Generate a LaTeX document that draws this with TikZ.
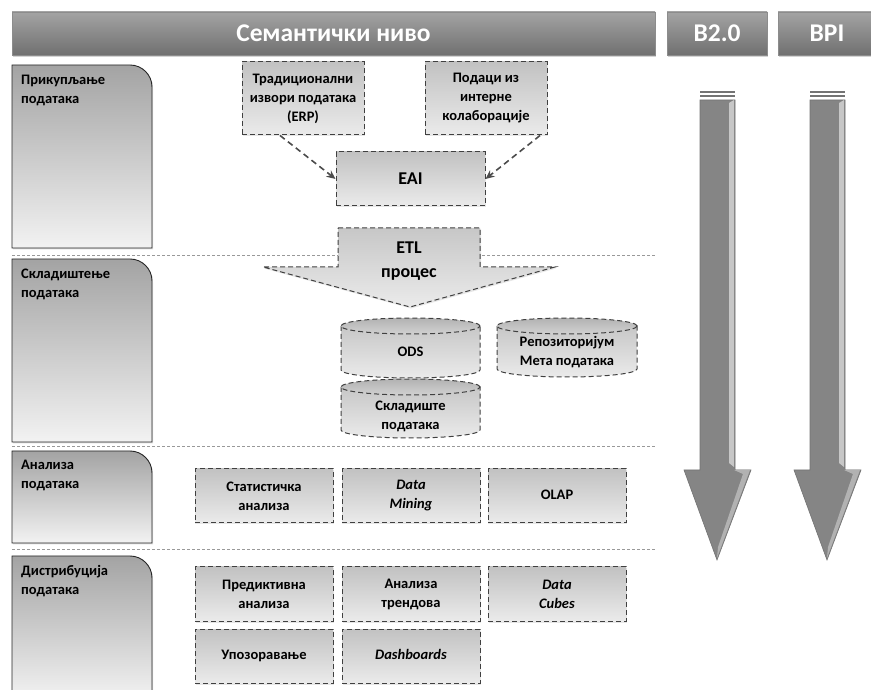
\documentclass[tikz,border=0pt]{standalone}
\usepackage{fontspec}
\setmainfont{Carlito}
\usetikzlibrary{arrows.meta,shadows}
\newcommand\boxfont{\fontsize{14.5}{19}\selectfont\bfseries}
\tikzset{
  tab/.style={text=white, font=\fontsize{25.5}{25.5}\selectfont\bfseries,
    top color=black!36, bottom color=black!56, draw=black!45,
    minimum height=43pt, inner sep=0pt,
    drop shadow={opacity=0.35, shadow xshift=1pt, shadow yshift=-2pt}},
  phase/.style={draw=black!85, line width=0.9pt, top color=black!36, bottom color=black!5,
    drop shadow={opacity=0.25, shadow xshift=1pt, shadow yshift=-1.5pt}},
  phasetext/.style={anchor=north west, align=left, inner sep=0pt, font=\boxfont},
  item/.style={draw=black!75, dash pattern=on 5pt off 3pt, line width=1pt,
    top color=black!24, bottom color=black!8, align=center, font=\boxfont,
    minimum width=138pt, minimum height=54pt, inner sep=0pt,
    drop shadow={opacity=0.2, shadow xshift=1pt, shadow yshift=-1.5pt}},
  oneline/.style={text height=10pt, text depth=3pt},
  drum/.style={draw=black!75, dash pattern=on 5pt off 3pt, line width=1pt,
    top color=black!22, bottom color=black!8},
  drumtext/.style={align=center, font=\boxfont, inner sep=0pt},
  flow/.style={draw=black!70, line width=1.6pt, dash pattern=on 6pt off 4pt,
    -{Stealth[length=9pt,width=8pt]}},
  sep/.style={draw=black!40, line width=0.8pt, dash pattern=on 3pt off 2pt},
  bigarrow/.style={fill=black!48, draw=black!55, line width=0.6pt},
}
\begin{document}
\begin{tikzpicture}[x=1pt,y=1pt]
\useasboundingbox (0,0) rectangle (871,689);
% header
\node[tab, minimum width=643pt] (sem) at (333.5,655.5) {Семантички ниво};
\node[tab, minimum width=100pt] (b20) at (717,655.5) {B2.0};
\node[tab, minimum width=98pt] (bpi) at (827,655.5) {BPI};

% separators
\draw[sep] (12,434) -- (655,434);
\draw[sep] (12,243) -- (655,243);
\draw[sep] (12,140) -- (655,140);

% phases on the left
\draw[phase] (12,441) -- (12,624) -- (130,624) arc[start angle=90, end angle=0, radius=22] -- (152,441) -- cycle;
\draw[phase] (12,247) -- (12,430) -- (130,430) arc[start angle=90, end angle=0, radius=22] -- (152,247) -- cycle;
\draw[phase] (12,146) -- (12,238) -- (130,238) arc[start angle=90, end angle=0, radius=22] -- (152,146) -- cycle;
\draw[phase] (12,-10) -- (12,133) -- (130,133) arc[start angle=90, end angle=0, radius=22] -- (152,-10) -- cycle;
\node[phasetext] (p1) at (21,614) {Прикупљање\\података};
\node[phasetext] (p2) at (21,420) {Складиштење\\података};
\node[phasetext] (p3) at (21,229) {Анализа\\података};
\node[phasetext] (p4) at (21,124) {Дистрибуција\\података};

% collection
\node[item, minimum width=122pt, minimum height=73pt] (trad) at (303,590.5) {Традиционални\\извори података\\(ERP)};
\node[item, minimum width=122pt, minimum height=73pt] (intern) at (486,590.5) {Подаци из\\интерне\\колаборације};
\node[item, minimum width=149pt, font=\fontsize{18}{22}\selectfont\bfseries] (eai) at (410.5,510) {EAI};
\draw[flow] ([xshift=-23pt]trad.south) -- (eai.west);
\draw[flow] ([xshift=54pt]intern.south) -- (eai.east);

% ETL
\draw[drum, drop shadow={opacity=0.2, shadow xshift=1pt, shadow yshift=-1.5pt}]
  (338,461) -- (480,461) -- (480,422) -- (555,422) -- (410,382) -- (263,422) -- (338,422) -- cycle;
\node[drumtext, font=\fontsize{18}{24}\selectfont\bfseries] (etl) at (409,428) {ETL\\процес};

% storage
\draw[drum] (341,363) -- (341,319) arc[start angle=180, end angle=360, x radius=69.5, y radius=8] -- (480,363) -- cycle;
\draw[drum, top color=black!30, bottom color=black!18] (410.5,363) ellipse[x radius=69.5, y radius=8];
\draw[drum] (341,302) -- (341,259) arc[start angle=180, end angle=360, x radius=69.5, y radius=8] -- (480,302) -- cycle;
\draw[drum, top color=black!30, bottom color=black!18] (410.5,302) ellipse[x radius=69.5, y radius=8];
\draw[drum] (497,363) -- (497,320) arc[start angle=180, end angle=360, x radius=70, y radius=8] -- (637,363) -- cycle;
\draw[drum, top color=black!30, bottom color=black!18] (567,363) ellipse[x radius=70, y radius=8];
\node[drumtext, oneline] (ods) at (410.5,336) {ODS};
\node[drumtext] (dw) at (410.5,273) {Складиште\\података};
\node[drumtext] (meta) at (567,337) {Репозиторијум\\Мета података};

% analysis
\node[item] (stat) at (264,193) {Статистичка\\анализа};
\node[item] (mining) at (411,193) {\textit{Data}\\\textit{Mining}};
\node[item, oneline] (olap) at (557,193) {OLAP};

% distribution
\node[item] (pred) at (264,95) {Предиктивна\\анализа};
\node[item] (trend) at (411,95) {Анализа\\трендова};
\node[item] (cubes) at (557,95) {\textit{Data}\\\textit{Cubes}};
\node[item, oneline] (warn) at (264,33) {Упозоравање};
\node[item, oneline] (dash) at (411,33) {\textit{Dashboards}};

% B2.0 and BPI arrows
\fill[black!55] (700,598) rectangle (735,596);
\fill[black!55] (700,594) rectangle (735,592);
\draw[bigarrow] (700,589) -- (735,589) -- (735,219) -- (751,219) -- (717,129) -- (684,219) -- (700,219) -- cycle;
\fill[black!22] (729,586) -- (734,589) -- (734,222) -- (729,226) -- cycle;
\fill[black!30] (734,219) -- (750,219) -- (717,131) -- (718,142) -- (743,215) -- cycle;
\fill[black!55] (810,598) rectangle (845,596);
\fill[black!55] (810,594) rectangle (845,592);
\draw[bigarrow] (810,589) -- (845,589) -- (845,219) -- (861,219) -- (827,129) -- (794,219) -- (810,219) -- cycle;
\fill[black!22] (839,586) -- (844,589) -- (844,222) -- (839,226) -- cycle;
\fill[black!30] (844,219) -- (860,219) -- (827,131) -- (828,142) -- (853,215) -- cycle;
\end{tikzpicture}
\end{document}
